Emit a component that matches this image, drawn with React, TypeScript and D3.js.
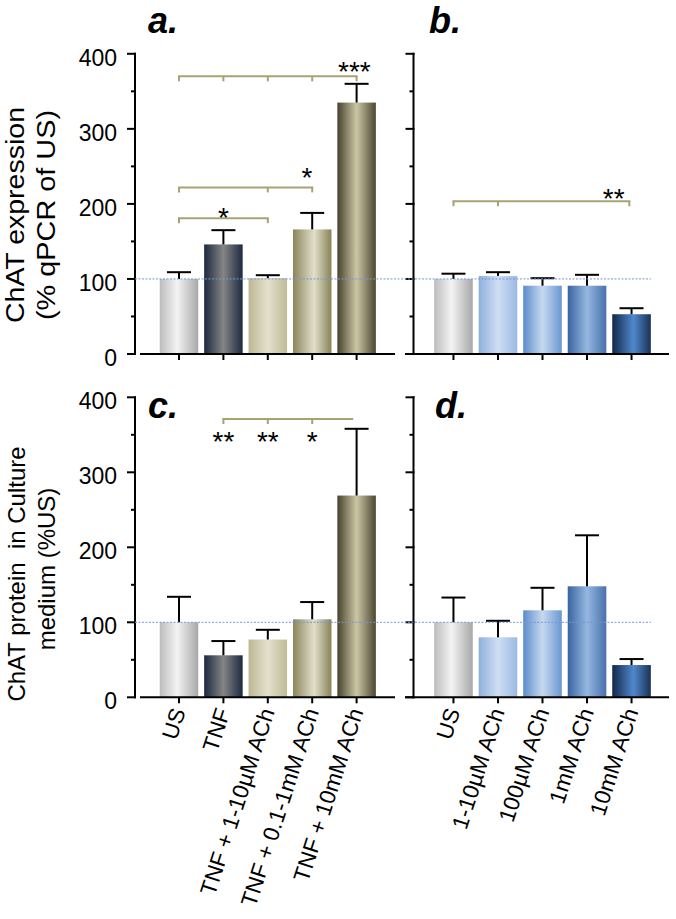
import React from "react";
import * as d3 from "d3";

// ---------- data ----------
const catsLeft = ["US", "TNF", "TNF + 1-10µM ACh", "TNF + 0.1-1mM ACh", "TNF + 10mM ACh"];
const catsRight = ["US", "1-10µM ACh", "100µM ACh", "1mM ACh", "10mM ACh"];

const meanA = [100, 146, 101, 166, 335];
const errA = [9, 19, 4, 22, 25];
const meanB = [100, 104, 91, 91, 53];
const errB = [7, 5, 10, 14.5, 8];
const meanC = [100, 56, 77, 104, 269];
const errC = [34, 19, 13, 23, 89];
const meanD = [100, 80, 116, 148, 43];
const errD = [33, 22, 30, 68, 8];

const majorTicks = [0, 100, 200, 300, 400];
const minorTicks = [50, 150, 250, 350];
const refValue = 100;

type Br = { v: number; from: number; to: number; ticks: number[]; labels: { t: string; at: number; v: number }[] };
const bracketsA: Br[] = [
  { v: 370, from: 0, to: 4, ticks: [0, 1, 2, 3, 4], labels: [{ t: "***", at: 3.95, v: 380 }] },
  { v: 222, from: 0, to: 3, ticks: [0, 2, 3], labels: [{ t: "*", at: 2.88, v: 238 }] },
  { v: 181, from: 0, to: 2, ticks: [0, 2], labels: [{ t: "*", at: 1, v: 185 }] },
];
const bracketsB: Br[] = [
  { v: 203.5, from: 0, to: 3.95, ticks: [0, 1, 3.95], labels: [{ t: "**", at: 3.6, v: 211 }] },
];
const bracketsC: Br[] = [
  {
    v: 371, from: 1, to: 3.9, ticks: [1, 2, 3],
    labels: [{ t: "**", at: 1, v: 345 }, { t: "**", at: 2, v: 345 }, { t: "*", at: 3, v: 345 }],
  },
];
const bracketsD: Br[] = [];

// ---------- styles ----------
const FONT = "'Liberation Sans', Arial, Helvetica, sans-serif";
const BRACKET = "#a9a275";
const REFLINE = "#7896d6";

const gradients: { id: string; stops: [number, string][] }[] = [
  { id: "gUS", stops: [[0, "#bcbcbc"], [0.45, "#f3f3f3"], [1, "#a7a7a7"]] },
  { id: "gTNF", stops: [[0, "#1c2940"], [0.5, "#858585"], [1, "#1c2940"]] },
  { id: "gT1", stops: [[0, "#bcb793"], [0.5, "#e3e0cd"], [1, "#c0bb97"]] },
  { id: "gT2", stops: [[0, "#8a855a"], [0.55, "#e2dfcb"], [1, "#888256"]] },
  { id: "gT3", stops: [[0, "#47432e"], [0.5, "#cbc6a4"], [1, "#4c4731"]] },
  { id: "gB1", stops: [[0, "#8dafdc"], [0.5, "#cfdef3"], [1, "#9bb9e2"]] },
  { id: "gB2", stops: [[0, "#5b8cca"], [0.5, "#c7d9f0"], [1, "#6997d0"]] },
  { id: "gB3", stops: [[0, "#38649e"], [0.5, "#95b7e2"], [1, "#4871a9"]] },
  { id: "gB4", stops: [[0, "#12274a"], [0.55, "#5088cd"], [1, "#1a3256"]] },
];
const fillsLeft = ["gUS", "gTNF", "gT1", "gT2", "gT3"];
const fillsRight = ["gUS", "gB1", "gB2", "gB3", "gB4"];

// ---------- layout ----------
const colLeft = { axisX: 135, xStart: 140, xEnd: 395, range: [156.8, 378.8] as [number, number] };
const colRight = { axisX: 413.5, xStart: 405, xEnd: 669, range: [431.2, 653.8] as [number, number] };
const rowTop = { y0: 354, yMax: 53.8 };
const rowBot = { y0: 697.3, yMax: 397.3 };

type PanelProps = {
  cats: string[];
  means: number[];
  errs: number[];
  fills: string[];
  col: typeof colLeft;
  row: typeof rowTop;
  brackets: Br[];
  tickLabels: boolean;
  xLabels: boolean;
  letter: string;
  letterX: number;
  letterY: number;
};

function Panel(p: PanelProps) {
  const x = d3.scaleBand<string>().domain(p.cats).range(p.col.range).paddingInner(0.133).paddingOuter(0.0665);
  const y = d3.scaleLinear().domain([0, 400]).range([p.row.y0, p.row.yMax]);
  const bw = x.bandwidth();
  const step = x.step();
  const cx = (i: number) => {
    const base = Math.floor(i);
    const frac = i - base;
    return (x(p.cats[Math.min(base, p.cats.length - 1)]) as number) + bw / 2 + frac * step;
  };
  const capW = 24;
  return (
    <g>
      {p.cats.map((c, i) => (
        <rect
          key={"b" + i}
          x={x(c)}
          y={y(p.means[i])}
          width={bw}
          height={y(0) - y(p.means[i])}
          fill={`url(#${p.fills[i]})`}
        />
      ))}
      {p.cats.map((c, i) => {
        const xc = cx(i);
        const top = y(p.means[i] + p.errs[i]);
        return (
          <g key={"e" + i} stroke="#000" strokeWidth={2}>
            <line x1={xc} x2={xc} y1={y(p.means[i])} y2={top} />
            <line x1={xc - capW / 2} x2={xc + capW / 2} y1={top} y2={top} />
          </g>
        );
      })}
      <g stroke="#000" strokeWidth={2}>
        <line x1={p.col.axisX} x2={p.col.axisX} y1={y(0) + 1} y2={y(400) - 1} />
        {majorTicks.map((t) => (
          <line key={"M" + t} x1={p.col.axisX - 8} x2={p.col.axisX + 1} y1={y(t)} y2={y(t)} />
        ))}
        {minorTicks.map((t) => (
          <line key={"m" + t} x1={p.col.axisX - 4} x2={p.col.axisX} y1={y(t)} y2={y(t)} />
        ))}
      </g>
      {p.tickLabels &&
        majorTicks.map((t) => (
          <text
            key={"tl" + t}
            x={p.col.axisX - 18}
            y={y(t) + 4}
            textAnchor="end"
            dominantBaseline="central"
            fontFamily={FONT}
            fontSize={23}
            fill="#000"
          >
            {t}
          </text>
        ))}
      <g stroke="#000" strokeWidth={2}>
        <line x1={p.col.xStart} x2={p.col.xEnd} y1={y(0)} y2={y(0)} />
        {p.cats.map((c, i) => (
          <line key={"xt" + i} x1={cx(i)} x2={cx(i)} y1={y(0)} y2={y(0) + 6} />
        ))}
      </g>
      {p.xLabels &&
        p.cats.map((c, i) => (
          <text
            key={"xl" + i}
            transform={`translate(${cx(i) + 7},${y(0) + 14}) rotate(-72)`}
            textAnchor="end"
            fontFamily={FONT}
            fontSize={22.5}
            fill="#000"
          >
            {c}
          </text>
        ))}
      {p.brackets.map((b, bi) => (
        <g key={"br" + bi}>
          <g stroke={BRACKET} strokeWidth={2} fill="none">
            <line x1={cx(b.from) - 1} x2={cx(b.to) + 1} y1={y(b.v)} y2={y(b.v)} />
            {b.ticks.map((t) => (
              <line key={"bt" + t} x1={cx(t)} x2={cx(t)} y1={y(b.v)} y2={y(b.v) + 5} />
            ))}
          </g>
          {b.labels.map((l, li) => (
            <text
              key={"bl" + li}
              x={cx(l.at)}
              y={y(l.v) + 12}
              textAnchor="middle"
              fontFamily={FONT}
              fontSize={28}
              fill="#000"
            >
              {l.t}
            </text>
          ))}
        </g>
      ))}
      <text
        x={p.letterX}
        y={p.letterY}
        fontFamily={FONT}
        fontSize={36}
        fontWeight="bold"
        fontStyle="italic"
        fill="#000"
      >
        {p.letter}
      </text>
    </g>
  );
}

function RefLine({ row }: { row: typeof rowTop }) {
  const y = d3.scaleLinear().domain([0, 400]).range([row.y0, row.yMax]);
  const xr = d3.scaleBand<string>().domain(catsRight).range(colRight.range).paddingInner(0.133).paddingOuter(0.0665);
  const xEnd = (xr(catsRight[catsRight.length - 1]) as number) + xr.bandwidth();
  return (
    <line
      x1={colLeft.axisX}
      x2={xEnd}
      y1={y(refValue)}
      y2={y(refValue)}
      stroke={REFLINE}
      strokeWidth={1}
      strokeDasharray="2,1.5"
    />
  );
}

export default function App() {
  return (
    <svg
      width={676}
      height={919}
      viewBox="0 0 676 919"
      style={{ position: "absolute", left: 0, top: 0, background: "#fff", display: "block" }}
    >
      <defs>
        {gradients.map((g) => (
          <linearGradient key={g.id} id={g.id} x1="0" x2="1" y1="0" y2="0">
            {g.stops.map(([o, c], i) => (
              <stop key={i} offset={o} stopColor={c} />
            ))}
          </linearGradient>
        ))}
      </defs>
      <rect x={0} y={0} width={676} height={919} fill="#fff" />

      <Panel cats={catsLeft} means={meanA} errs={errA} fills={fillsLeft} col={colLeft} row={rowTop}
        brackets={bracketsA} tickLabels xLabels={false} letter="a." letterX={148} letterY={33} />
      <Panel cats={catsRight} means={meanB} errs={errB} fills={fillsRight} col={colRight} row={rowTop}
        brackets={bracketsB} tickLabels={false} xLabels={false} letter="b." letterX={429} letterY={33} />
      <Panel cats={catsLeft} means={meanC} errs={errC} fills={fillsLeft} col={colLeft} row={rowBot}
        brackets={bracketsC} tickLabels xLabels letter="c." letterX={148} letterY={418} />
      <Panel cats={catsRight} means={meanD} errs={errD} fills={fillsRight} col={colRight} row={rowBot}
        brackets={bracketsD} tickLabels={false} xLabels letter="d." letterX={435} letterY={418} />

      <RefLine row={rowTop} />
      <RefLine row={rowBot} />

      <g fontFamily={FONT} fontSize={25} fill="#000" textAnchor="middle">
        <text transform="translate(24,215) rotate(-90)" textLength={216} lengthAdjust="spacingAndGlyphs">
          ChAT expression
        </text>
        <text transform="translate(55,215) rotate(-90)" textLength={210} lengthAdjust="spacingAndGlyphs">
          (% qPCR of US)
        </text>
        <text transform="translate(25,574) rotate(-90)" fontSize={24} style={{ whiteSpace: "pre" }}>
          {"ChAT protein  in Culture"}
        </text>
        <text transform="translate(55,569) rotate(-90)" fontSize={24}>
          medium (%US)
        </text>
      </g>
    </svg>
  );
}
